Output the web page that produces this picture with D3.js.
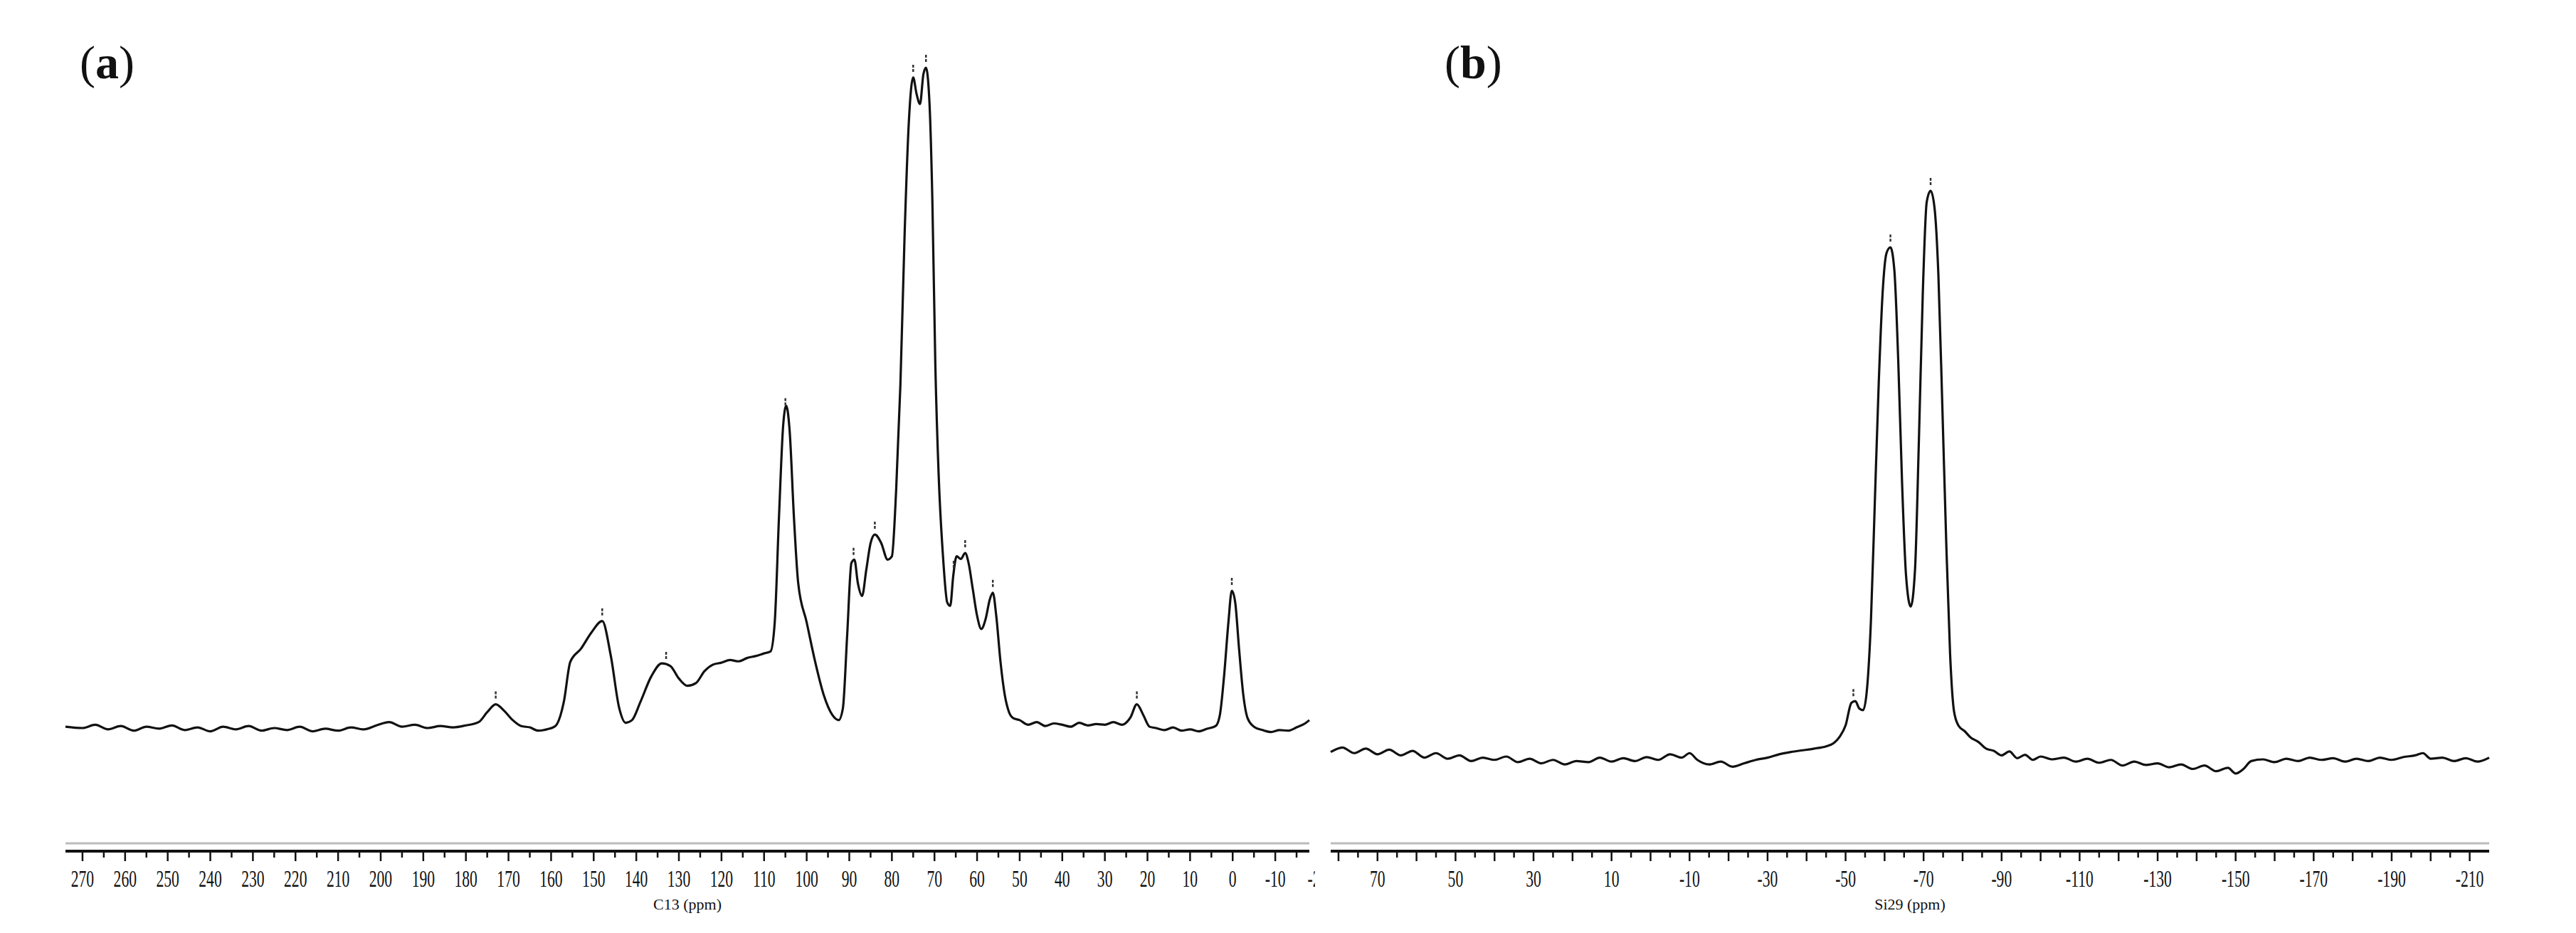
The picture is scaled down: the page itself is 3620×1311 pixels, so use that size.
<!DOCTYPE html>
<meta charset="utf-8">
<body style="margin:0;background:#fff">
<script src="https://cdn.jsdelivr.net/npm/d3@7"></script>
<div id="chart"></div>
<script>
// C13 spectrum, panel (a): [ppm, relative intensity]
var c13Spectrum = [
  [274,0.2],[270,0.0],[267,0.5],[264,-0.2],[261,0.3],[258,-0.4],[255,0.2],[252,-0.1],[249,0.4],[246,-0.3],
  [243,0.1],[240,-0.5],[237,0.2],[234,-0.2],[231,0.3],[228,-0.4],[225,0.0],[222,-0.3],[219,0.2],[216,-0.5],
  [213,-0.1],[210,-0.4],[207,0.1],[204,-0.2],[201,0.4],[198,0.9],[195,0.2],[192,0.5],[189,0.0],[186,0.3],
  [183,0.1],[180,0.4],[177,0.9],[175,2.4],[173,3.6],[171,2.6],[169,1.2],[167,0.3],[165,0.1],[163,-0.4],
  [161,-0.2],[159,0.3],[157,4],[155.5,10],[153,12],[150.5,14.5],[148,16.2],[146,11],[144,3],[142.5,0.8],
  [141,1.2],[139,4],[136.5,7.8],[134,9.8],[132,9.4],[130,7.5],[128,6.4],[126,6.8],[124,8.6],[122,9.6],
  [120,9.9],[118,10.3],[116,10.1],[114,10.6],[112,10.9],[110,11.3],[108.5,11.6],[107.5,16],[106.5,32],[105.5,46],
  [104.8,48.8],[104,45],[103,32],[102,22],[100,16],[98,10],[96,5],[94,2],[92.5,1.2],[91.5,3],
  [90.5,14],[89.5,25],[88.8,25.5],[88,22],[87,20],[86,24],[85,28],[84,29.3],[82.5,28],[81,25.5],
  [80,26],[79,36],[78,52],[77,75],[76,92],[75,98.5],[74.2,96],[73.4,94.5],[72.6,99],[72,100],
  [71.2,95],[70.5,80],[69.8,55],[69,38],[68,26],[67,19],[66.3,18.5],[65.6,23],[64.8,26],[63.8,25.6],
  [62.8,26.5],[62,25],[61,21],[60,17],[59,15],[58,16.5],[57,19.5],[56.3,20.5],[55.5,17],[54.5,10],
  [53.5,5],[52.5,2.4],[51.5,1.5],[50,1.2],[48,0.5],[46,0.9],[44,0.3],[42,0.7],[40,0.5],[38,0.2],
  [36,0.8],[34,0.4],[32,0.6],[30,0.5],[28,0.9],[26,0.5],[24,1.6],[22.5,3.6],[21,2],[19.5,0.2],
  [18,0.0],[16,-0.3],[14,0.1],[12,-0.4],[10,-0.2],[8,-0.5],[6,-0.1],[4,0.3],[3,2],[2,8],[1,16],
  [0.2,20.8],[-0.6,19],[-1.5,12],[-2.5,5],[-3.5,1.5],[-5,0.2],[-7,-0.3],[-9,-0.6],[-11,-0.3],
  [-13,-0.4],[-15,0.1],[-17,0.7],[-18,1.2]
];
var c13Peaks = [173, 148, 133, 105, 89, 84, 75, 72, 65.5, 62.8, 56.3, 22.5, 0.2];
var c13Labels = [270,260,250,240,230,220,210,200,190,180,170,160,150,140,130,120,110,100,90,80,70,60,50,40,30,20,10,0,-10,-20];

// Si29 spectrum, panel (b)
var si29Spectrum = [
  [82,0.8],[79,1.6],[76,0.6],[73,1.4],[70,0.4],[67,1.2],[64,0.2],[61,1.0],[58,-0.2],[55,0.6],
  [52,-0.4],[49,0.2],[46,-0.8],[43,-0.2],[40,-0.6],[37,0.0],[34,-1.0],[31,-0.4],[28,-1.2],[25,-0.6],
  [22,-1.4],[19,-0.8],[16,-1.0],[13,-0.2],[10,-0.9],[7,-0.3],[4,-0.8],[1,-0.1],[-2,-0.6],[-5,0.4],
  [-8,-0.2],[-10,0.6],[-12,-0.6],[-15,-1.4],[-18,-0.9],[-21,-1.8],[-24,-1.2],[-27,-0.6],[-30,-0.2],[-33,0.4],
  [-36,0.8],[-39,1.1],[-42,1.4],[-45,1.8],[-47,2.4],[-48.5,3.5],[-50,5.5],[-51.5,9.5],[-52.5,9.8],[-53.5,8.5],
  [-54.5,8.2],[-55.5,12],[-56.5,24],[-57.5,45],[-58.5,66],[-59.5,82],[-60.5,89],[-61.5,90],[-62.5,86],[-63.5,70],
  [-64.5,48],[-65.5,32],[-66.7,26.5],[-67.8,33],[-68.8,56],[-69.8,82],[-70.8,98],[-71.8,100],[-72.8,97],[-73.8,85],
  [-74.8,62],[-75.8,38],[-76.8,18],[-77.8,8],[-79,5.4],[-80.5,4.5],[-82,3.4],[-84,2.6],[-86,1.4],[-88,1.0],
  [-90,0.2],[-92,0.9],[-94,-0.3],[-96,0.3],[-98,-0.6],[-100,0.0],[-103,-0.5],[-106,-0.2],[-109,-0.9],
  [-112,-0.4],[-115,-1.1],[-118,-0.6],[-121,-1.6],[-124,-0.9],[-127,-1.5],[-130,-1.2],[-133,-1.9],[-136,-1.4],[-139,-2.2],
  [-142,-1.6],[-145,-2.6],[-148,-2.0],[-150,-3.0],[-152,-2.2],[-154,-0.8],[-157,-0.5],[-160,-1.0],[-163,-0.4],[-166,-0.8],
  [-169,-0.2],[-172,-0.6],[-175,-0.3],[-178,-0.9],[-181,-0.4],[-184,-0.8],[-187,-0.2],[-190,-0.6],[-193,-0.1],[-196,0.2],
  [-198,0.6],[-200,-0.4],[-203,-0.2],[-206,-0.8],[-209,-0.3],[-212,-0.9],[-215,-0.2]
];
var si29Peaks = [-52, -61.5, -71.8];
var si29Labels = [70,50,30,10,-10,-30,-50,-70,-90,-110,-130,-150,-170,-190,-210];

var W = 3620, H = 1311;
var svg = d3.select("#chart").append("svg").attr("width", W).attr("height", H)
  .style("font-family", "'Liberation Serif', 'DejaVu Serif', serif");

var clipN = 0;
function panel(opt) {
  var x = d3.scaleLinear().domain(opt.domain).range([opt.x0, opt.x1]);
  var y = d3.scaleLinear().domain([0, 100]).range([opt.base, opt.top]);
  var g = svg.append("g");
  var cid = "clip" + (clipN++);
  svg.append("clipPath").attr("id", cid).append("rect")
    .attr("x", opt.x0 - 40).attr("y", 0).attr("width", opt.x1 - opt.x0 + 48).attr("height", H);
  var ga = svg.append("g").attr("clip-path", "url(#" + cid + ")");

  g.append("path")
    .datum(opt.data)
    .attr("fill", "none")
    .attr("stroke", "#111")
    .attr("stroke-width", 3.2)
    .attr("stroke-linejoin", "round")
    .attr("d", d3.line().curve(d3.curveMonotoneX)
      .x(function(d) { return x(d[0]) })
      .y(function(d) { return y(d[1]) }));

  // peak pick markers
  var lookup = d3.scaleLinear().domain(opt.data.map(function(d){return d[0]})).range(opt.data.map(function(d){return d[1]}));
  g.selectAll(".pk").data(opt.peaks).enter().append("line")
    .attr("x1", function(d){return x(d)}).attr("x2", function(d){return x(d)})
    .attr("y1", function(d){return y(lookup(d)) - 8}).attr("y2", function(d){return y(lookup(d)) - 20})
    .attr("stroke", "#333").attr("stroke-width", 2.5).attr("stroke-dasharray", "4,2");

  // axis: grey rule, black rule, ticks every 5 ppm
  g.append("line").attr("x1", opt.x0).attr("x2", opt.x1).attr("y1", opt.axisY - 11).attr("y2", opt.axisY - 11)
    .attr("stroke", "#bbb").attr("stroke-width", 3);
  g.append("line").attr("x1", opt.x0).attr("x2", opt.x1).attr("y1", opt.axisY).attr("y2", opt.axisY)
    .attr("stroke", "#111").attr("stroke-width", 4);
  var ticks = d3.range(Math.floor(opt.domain[0] / 5) * 5, opt.domain[1], -5);
  g.selectAll(".tk").data(ticks).enter().append("line")
    .attr("x1", function(d){return x(d)}).attr("x2", function(d){return x(d)})
    .attr("y1", opt.axisY).attr("y2", function(d){return opt.axisY + (d % 10 === 0 ? 14 : 9)})
    .attr("stroke", "#111").attr("stroke-width", 2.5);
  ga.selectAll(".lb").data(opt.labels).enter().append("text")
    .attr("x", function(d){return x(d)}).attr("y", opt.axisY + 50)
    .attr("text-anchor", "middle").attr("font-size", 27)
    .attr("transform", function(d){return "translate(" + x(d) + "," + (opt.axisY + 50) + ") scale(0.8,1.25) translate(" + (-x(d)) + "," + (-(opt.axisY + 50)) + ")"})
    .attr("fill", "#111")
    .text(function(d){return d < 0 ? "-" + (-d) : d});
  g.append("text").attr("x", (opt.x0 + opt.x1) / 2).attr("y", opt.axisY + 82)
    .attr("text-anchor", "middle").attr("font-size", 22).attr("fill", "#111").text(opt.title);

  svg.append("text").attr("x", opt.tagX).attr("y", 110).attr("font-size", 66).attr("fill", "#111")
    .html("(<tspan font-weight='bold'>" + opt.tag + "</tspan>)");
}

panel({data: c13Spectrum, peaks: c13Peaks, labels: c13Labels, domain: [274, -18],
  x0: 92, x1: 1840, base: 1023, top: 95, axisY: 1196, title: "C13 (ppm)", tag: "a", tagX: 112});
panel({data: si29Spectrum, peaks: si29Peaks, labels: si29Labels, domain: [82, -215],
  x0: 1870, x1: 3498, base: 1063, top: 268, axisY: 1196, title: "Si29 (ppm)", tag: "b", tagX: 2030});
</script>
</body>
